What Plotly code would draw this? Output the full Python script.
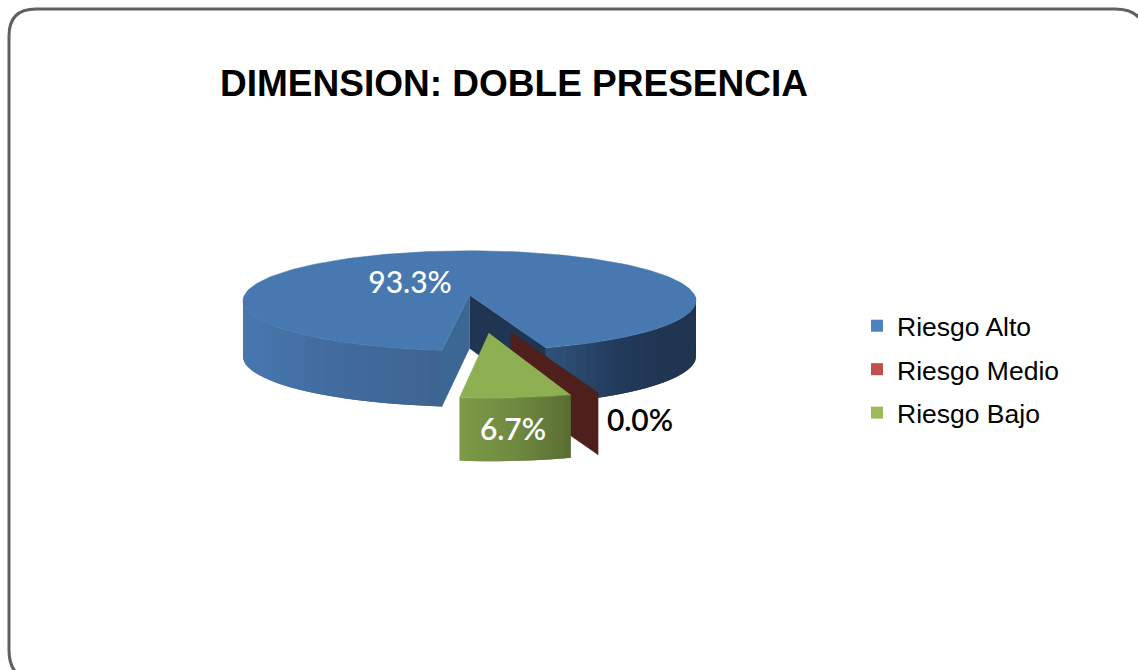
import numpy as np
import plotly.graph_objects as go

# ---- data ----
TITLE = "DIMENSION: DOBLE PRESENCIA"
categories = ["Riesgo Alto", "Riesgo Medio", "Riesgo Bajo"]
values = [93.3, 0.0, 6.7]
legend_colors = ["#4F81BD", "#C0504D", "#9BBB59"]

# ---- drawing geometry (canvas units = pixels) ----
W, H = 1138, 670
CX, CY, RX, RY = 469.5, 295.0, 225.0, 50.0
DEPTH = 56.0
PERSP = 0.115
START = 17.8  # degrees clockwise from the viewer-facing point


def proj(theta, cx=CX, cy=CY, sx=1.0, sy=1.0):
    t = np.radians(theta)
    p = 1 + PERSP * np.cos(t)
    return cx + sx * RX * np.sin(t) * p, cy + sy * RY * np.cos(t) * p


def lerp(c1, c2, f):
    a = [int(c1[i:i + 2], 16) for i in (1, 3, 5)]
    b = [int(c2[i:i + 2], 16) for i in (1, 3, 5)]
    return "rgb(%d,%d,%d)" % tuple(round(a[i] + (b[i] - a[i]) * f) for i in range(3))


fig = go.Figure()


def poly(xs, ys, color, width=0.5):
    fig.add_trace(go.Scatter(x=list(xs), y=list(ys), mode="lines", fill="toself",
                             fillcolor=color, line=dict(color=color, width=width),
                             hoverinfo="skip", showlegend=False))


def wall(t0, t1, stops, depth, n=28, reverse=False, **kw):
    # strips overlap their neighbour so no anti-aliased seam shows between them
    edges = np.linspace(t0, t1, n + 1)
    order = range(n - 1, -1, -1) if reverse else range(n)
    for i in order:
        f = i / (n - 1) * (len(stops) - 1)
        j = min(int(f), len(stops) - 2)
        other = max(i - 1, 0) if reverse else i + 1
        ts = np.linspace(edges[other], edges[i + 1 if reverse else i], 4)
        xa, ya = proj(ts, **kw)
        if reverse:
            ts = np.linspace(edges[max(i - 1, 0)], edges[i + 1], 4)
        else:
            ts = np.linspace(edges[i], edges[min(i + 2, n)], 4)
        xa, ya = proj(ts, **kw)
        poly(np.r_[xa, xa[::-1]], np.r_[ya, ya[::-1] + depth],
             lerp(stops[j], stops[j + 1], f - j), width=0)


# slice angles come from the values
shares = np.array(values) / sum(values) * 360
blue_end = START + shares[0]           # end of the large slice
red_t = (START + shares[0] + shares[2]) % 360  # zero-width slice on the far edge of green
green_t0, green_t1 = blue_end - 360, blue_end - 360 + shares[2]

# large slice: walls, cut faces, top
wall(270, blue_end, ["#4777AF", "#4676AD", "#426C9F", "#3E6492"], DEPTH)
wall(START, 90, ["#2E5078", "#223B5B", "#1F3552", "#1F3552", "#1E3450"], DEPTH)
ex, ey = proj(blue_end)
poly([CX, ex, ex, CX], [CY, ey, ey + DEPTH, CY + DEPTH * 0.95], "#3C6794")
sx, sy = proj(START)
poly([CX, sx, sx, CX], [CY, sy, sy + DEPTH, CY + DEPTH * 0.95], "#1F3552")
arc = np.linspace(START, blue_end, 240)
ax, ay = proj(arc)
poly(np.r_[CX, ax], np.r_[CY, ay], "#4878B0")

# zero-width slice, pulled out: only its cut face shows
R_KW = dict(cx=510.7, cy=332.0, sx=1.145, sy=1.15)
rx_, ry_ = proj(red_t, **R_KW)
poly([R_KW["cx"], rx_, rx_, R_KW["cx"]],
     [R_KW["cy"], ry_, ry_ + 62, R_KW["cy"] + 62], "#4F1F1C")

# small slice, pulled out
G_KW = dict(cx=489.0, cy=333.0, sx=1.07, sy=1.17)
wall(green_t0, green_t1, ["#7C9A47", "#6F8A40", "#5A6E33"], 63, n=24, **G_KW)
garc = np.linspace(green_t0, green_t1, 60)
gx, gy = proj(garc, **G_KW)
poly(np.r_[G_KW["cx"], gx], np.r_[G_KW["cy"], gy], "#8FAF53")

# data labels
fig.add_trace(go.Scatter(
    x=[410, 640, 513], y=[285, 423, 432], mode="text",
    text=[f"{v:.1f}%" for v in values],
    textposition="middle center", hoverinfo="skip", showlegend=False,
    textfont=dict(family="Lato", size=30, color=["#FFFFFF", "#000000", "#FFFFFF"],
                  weight=[500, 600, 600])))

# legend entries
for name, col in zip(categories, legend_colors):
    fig.add_trace(go.Scatter(x=[None], y=[None], mode="markers", name=name, legendgroup=name,
                             marker=dict(symbol="square", size=13, color=col)))

border = ("M 9 36 Q 9 9 36 9 L 1115 9 Q 1146 9 1146 40 L 1146 650 Q 1146 681 1115 681 "
          "L 40 681 Q 9 681 9 650 Z")
fig.update_layout(
    width=W, height=H, margin=dict(l=0, r=0, t=0, b=0), autosize=False,
    paper_bgcolor="#FFFFFF", plot_bgcolor="#FFFFFF",
    xaxis=dict(range=[0, W], visible=False, fixedrange=True),
    yaxis=dict(range=[H, 0], visible=False, fixedrange=True),
    title=dict(text=TITLE, x=514 / W, y=1 - 83 / H, xanchor="center", yanchor="middle",
               font=dict(family="Liberation Sans", size=37, color="#000000", weight="bold")),
    legend=dict(x=857 / W, y=1 - 302 / H, xanchor="left", yanchor="top",
                itemsizing="constant", itemwidth=30, tracegroupgap=6,
                bgcolor="rgba(0,0,0,0)",
                font=dict(family="Liberation Sans", size=26.5, color="#000000")),
    shapes=[dict(type="path", path=border, line=dict(color="#606060", width=3),
                 fillcolor="rgba(0,0,0,0)", layer="above")],
)
fig.write_html("out.html", post_script="document.body.style.margin='0';",
               config={"displayModeBar": False})
